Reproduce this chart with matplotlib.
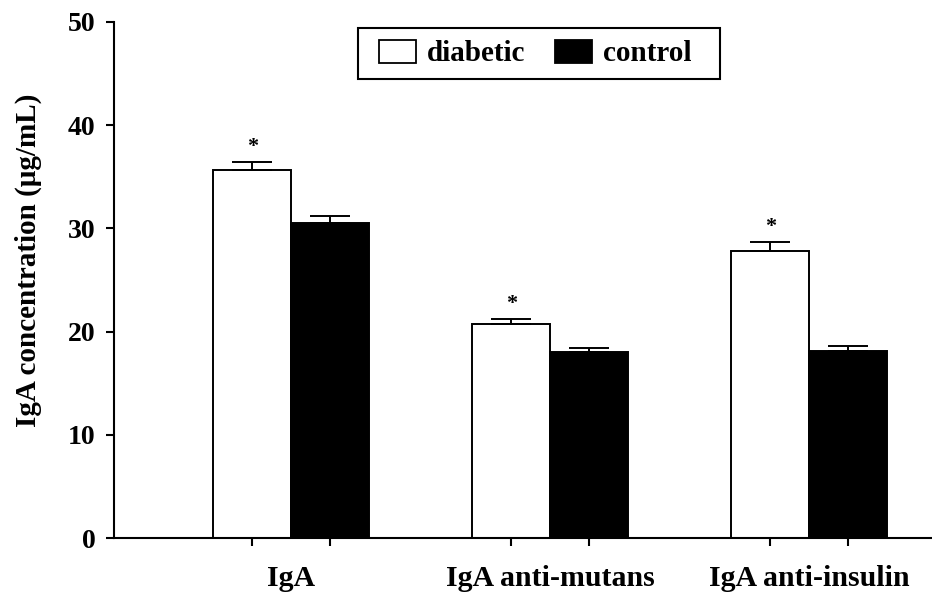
import matplotlib
matplotlib.use("Agg")
import matplotlib.pyplot as plt
import numpy as np
from matplotlib.patches import Patch, Rectangle

categories = ["IgA", "IgA anti-mutans", "IgA anti-insulin"]
diabetic = [35.7, 20.7, 27.8]
diabetic_err = [0.75, 0.5, 0.9]
control = [30.5, 18.0, 18.15]
control_err = [0.7, 0.45, 0.5]
significant = [True, True, True]
y_ticks = [0, 10, 20, 30, 40, 50]

plt.rcParams['font.family'] = ['Liberation Serif', 'DejaVu Serif']
plt.rcParams['font.weight'] = 'bold'

W, H = 932, 594
fig = plt.figure(figsize=(W/100, H/100), dpi=100)
ax = fig.add_axes([114.3/W, (H-538.3)/H, 1 - 114.3/W, (538.3-21.8)/H])

x = np.arange(len(categories))
w = 0.30
lw = 1.4
ax.bar(x - w/2, diabetic, w, color='white', edgecolor='black', linewidth=lw,
       yerr=[np.zeros(3), diabetic_err], capsize=14.5,
       error_kw=dict(elinewidth=lw, capthick=lw, ecolor='black'), zorder=2)
ax.bar(x + w/2, control, w, color='black', edgecolor='black', linewidth=lw,
       yerr=[np.zeros(3), control_err], capsize=14.5,
       error_kw=dict(elinewidth=lw, capthick=lw, ecolor='black'), zorder=2)

for i, s in enumerate(significant):
    if s:
        ax.text(x[i] - w/2, diabetic[i] + diabetic_err[i] + 0.5, "*",
                ha='center', va='bottom', fontsize=16, fontweight='bold')

ax.set_xlim(-0.683, 2.475)
ax.set_ylim(0, 50)
ax.set_yticks(y_ticks)
ax.set_yticklabels([str(t) for t in y_ticks], fontsize=20, fontweight='bold')
ax.set_xticks(np.concatenate([x - w/2, x + w/2]))
ax.set_xticklabels([])
for i, c in enumerate(categories):
    ax.text(x[i], -2.6, c, ha='center', va='top', fontsize=21.5, fontweight='bold',
            transform=ax.transData)

ax.spines['top'].set_visible(False)
ax.spines['right'].set_visible(False)
ax.spines['left'].set_linewidth(1.5)
ax.spines['bottom'].set_linewidth(1.5)
ax.spines['left'].set_bounds(0, 50)
ax.tick_params(axis='y', direction='out', length=6, width=1.5, pad=7.5)
ax.tick_params(axis='x', direction='out', length=6, width=1.5)

ax.set_ylabel("IgA concentration (μg/mL)", fontsize=21, fontweight='bold')
ax.yaxis.set_label_coords(-0.088, 0.539)

handles = [Patch(facecolor='white', edgecolor='black', linewidth=1.3, label='diabetic'),
           Patch(facecolor='black', edgecolor='black', linewidth=1.3, label='control')]
leg = fig.legend(handles=handles, loc='upper left', bbox_to_anchor=(379/W, 1 - 40/H),
                 ncol=2, frameon=False,
                 prop=dict(family='Liberation Serif', weight='bold', size=21),
                 handlelength=1.27, handleheight=0.82, handletextpad=0.38,
                 columnspacing=1.0, borderpad=0.0, borderaxespad=0)
# legend frame box
fig.patches.append(Rectangle((358/W, 1 - 79/H), (720-358)/W, (79-28)/H,
                             transform=fig.transFigure, fill=False,
                             edgecolor='black', linewidth=1.5, zorder=5))

fig.savefig("out.png", dpi=100)
